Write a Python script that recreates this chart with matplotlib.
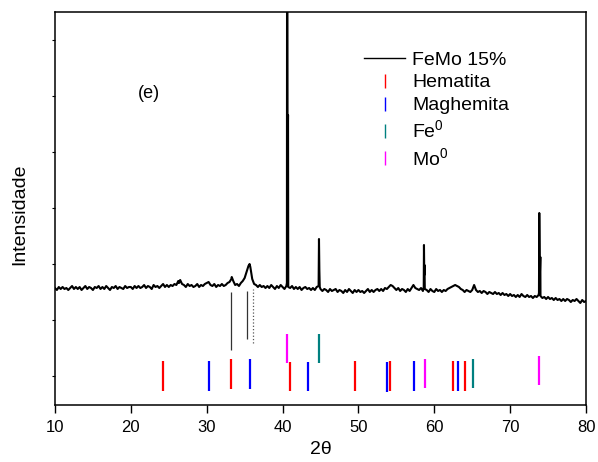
import numpy as np
import matplotlib
matplotlib.use("Agg")
import matplotlib.pyplot as plt
from matplotlib.lines import Line2D

plt.rcParams['font.family'] = ['Liberation Sans', 'DejaVu Sans']
plt.rcParams['mathtext.fontset'] = 'custom'
plt.rcParams['mathtext.rm'] = 'Liberation Sans'
plt.rcParams['mathtext.it'] = 'Liberation Sans:italic'

# ---------------- data ----------------
# XRD baseline sampled every 0.25 deg from 10 to 80 (intensity, arbitrary units)
grid_start, grid_step = 10.0, 0.25
base_y = [
    117, 115, 118, 116,  118, 116, 117, 115,  117, 119, 116, 118,  116, 118, 115, 117,
    119, 116, 118, 117,  115, 118, 117, 119,  116, 118, 116, 119,  117, 115, 118, 117,
    119, 116, 118, 117,  116, 119, 117, 118,  118, 116, 119, 117,  119, 117, 118, 120,
    117, 119, 118, 116,  120, 118, 119, 117,  119, 121, 118, 120,  118, 120, 119, 121,
    120, 124, 125, 121,  120, 118, 121, 119,  120, 118, 119, 121,  118, 120, 119, 121,
    122, 123, 120, 119,  121, 118, 120, 119,  121, 119, 120, 122,  123, 126, 124, 120,
    121, 119, 122, 124,  127, 133, 139, 138,  126, 121, 120, 118,  120, 118, 119, 117,
    119, 117, 120, 118,  116, 119, 117, 120,  118, 116, 119, 118,  117, 119, 116, 118,
    116, 118, 115, 117,  118, 116, 117, 115,  117, 115, 118, 119,  116, 114, 116, 115,
    113, 116, 114, 115,  116, 113, 115, 114,  112, 115, 113, 116,  114, 112, 115, 113,
    115, 113, 114, 112,  114, 116, 113, 115,  113, 115, 116, 114,  116, 114, 117, 116,
    118, 120, 119, 117,  115, 117, 114, 116,  115, 113, 116, 114,  117, 120, 117, 116,
    115, 117, 114, 116,  115, 113, 116, 114,  113, 116, 114, 115,  113, 115, 114, 116,
    117, 118, 119, 120,  119, 118, 116, 115,  113, 115, 114, 113,  115, 120, 115, 113,
    114, 112, 114, 113,  111, 113, 112, 111,  113, 111, 112, 110,  112, 110, 111, 109,
    111, 109, 110, 108,  110, 108, 111, 109,  108, 110, 108, 109,  107, 109, 108, 110,
    109, 107, 108, 106,  108, 106, 107, 105,  107, 105, 106, 104,  106, 104, 106, 105,
    103, 105, 104, 106,  104, 102, 105, 103,  104,
]
# sharp peak points (2theta, intensity)
peak_x = [26.35, 33.30, 35.65, 40.57, 40.60, 40.66, 40.72, 44.80, 44.85, 44.90,
          58.61, 58.64, 58.68, 58.71, 73.80, 73.84, 73.92, 73.98]
peak_y = [122, 128, 141, 122, 600, 250, 290, 166, 135, 118,
          118, 160, 130, 140, 112, 192, 130, 148]

# reference patterns (2theta, stick bottom, stick top)
hem_pos = [24.24, 33.20, 40.94, 49.55, 54.12, 62.47, 64.09]
hem_lo = [14, 16, 14, 14, 14, 14, 14]
hem_hi = [44, 46, 43, 44, 44, 44, 44]
mag_pos = [30.34, 35.70, 43.40, 53.80, 57.37, 63.08]
mag_lo = [14, 16, 14, 13, 14, 14]
mag_hi = [44, 46, 43, 43, 44, 44]
fe_pos = [44.76, 65.10]
fe_lo = [42, 17]
fe_hi = [71, 46]
mo_pos = [40.58, 58.73, 73.80]
mo_lo = [42, 17, 20]
mo_hi = [71, 46, 49]
# black marker lines below the pattern
mark_pos = [33.20, 35.35]
mark_lo = [55, 66]
mark_hi = [113, 114]
dot_pos = [36.14]
dot_lo = [62]
dot_hi = [116]

xticks = [10, 20, 30, 40, 50, 60, 70, 80]

# ---------------- build series ----------------
gx = grid_start + grid_step * np.arange(len(base_y))
x_all = np.concatenate([gx, np.array(peak_x)])
y_all = np.concatenate([np.array(base_y, float), np.array(peak_y, float)])
order = np.argsort(x_all, kind='stable')
x_all, y_all = x_all[order], y_all[order]

fig = plt.figure(figsize=(5.98, 4.62), dpi=100)
ax = fig.add_axes([55/598, 1-405/462, 531/598, 393/462])

ax.plot(x_all, y_all, color='black', lw=1.5, label='FeMo 15%', zorder=3)

ax.vlines(mark_pos, mark_lo, mark_hi, color='#333333', lw=0.9)
ax.vlines(dot_pos, dot_lo, dot_hi, color='#555555', lw=0.9, linestyles=':')
ax.vlines(hem_pos, hem_lo, hem_hi, color='#FF0000', lw=1.6)
ax.vlines(mag_pos, mag_lo, mag_hi, color='#0000FF', lw=1.6)
ax.vlines(fe_pos, fe_lo, fe_hi, color='#008080', lw=1.6)
ax.vlines(mo_pos, mo_lo, mo_hi, color='#FF00FF', lw=1.6)

ax.set_xlim(10, 80)
ax.set_ylim(0, 393)
ax.set_xticks(xticks)
ax.set_xticklabels([str(t) for t in xticks], fontsize=12)
ax.set_yticks([29, 85, 141, 197, 253, 309, 365])
ax.tick_params(axis='y', direction='out', length=2, labelleft=False, width=0.8)
ax.tick_params(axis='x', direction='out', length=6, width=1.0, pad=5)
for s in ax.spines.values():
    s.set_linewidth(1.1)

fig.text(321/598, 1-450/462, '2θ', ha='center', va='center', fontsize=14)
fig.text(20/598, 1-214/462, 'Intensidade', rotation=90, ha='center', va='center', fontsize=14)
ax.text(22.4, 312, '(e)', ha='center', va='center', fontsize=13)

handles = [
    Line2D([], [], color='black', lw=1.0),
    Line2D([], [], color='#FF0000', marker='|', ls='none', markersize=10, mew=1.0),
    Line2D([], [], color='#0000FF', marker='|', ls='none', markersize=10, mew=1.0),
    Line2D([], [], color='#008080', marker='|', ls='none', markersize=10, mew=1.0),
    Line2D([], [], color='#FF00FF', marker='|', ls='none', markersize=10, mew=1.0),
]
labels = ['FeMo 15%', 'Hematita', 'Maghemita', r'Fe$^{0}$', r'Mo$^{0}$']
ax.legend(handles, labels, loc='upper left', bbox_to_anchor=((364-55)/531, (405-51)/393),
          frameon=False, fontsize=14, handlelength=2.11, handletextpad=0.36,
          labelspacing=0.27, borderpad=0, borderaxespad=0)

fig.savefig('out.png', dpi=100)
